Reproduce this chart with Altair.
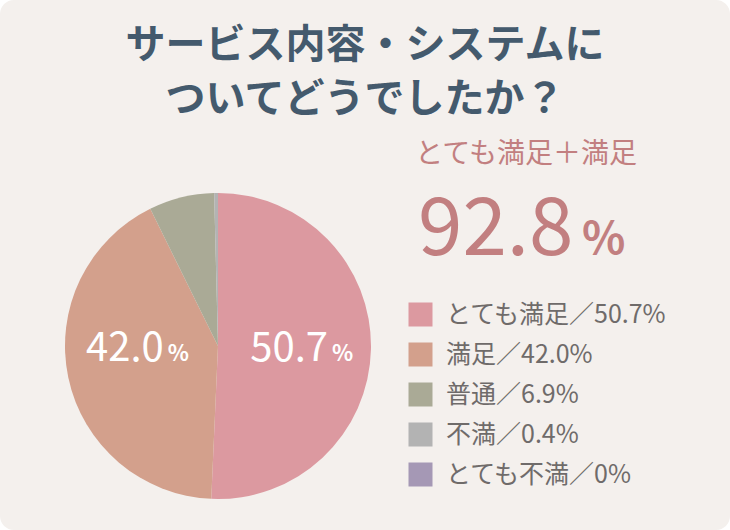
import altair as alt
import pandas as pd

# ---- data ----
categories = ["とても満足", "満足", "普通", "不満", "とても不満"]
values = [50.7, 42.0, 6.9, 0.4, 0.0]
pct_labels = ["50.7%", "42.0%", "6.9%", "0.4%", "0%"]
colors = ["#dc99a0", "#d3a08c", "#aaaa96", "#b3b3b3", "#a598b5"]

title_lines = ["サービス内容・システムに", "ついてどうでしたか？"]
summary_label = "とても満足＋満足"
summary_value = "92.8"

FONT = "Noto Sans CJK JP"

legend_labels = [c + "／" + p for c, p in zip(categories, pct_labels)]
df = pd.DataFrame({
    "cat": categories,
    "value": values,
    "legend": legend_labels,
    "order": list(range(len(categories))),
    "num": [f"{v:.1f}" if v >= 10 else "" for v in values],
    "sign": ["%" if v >= 10 else "" for v in values],
})

CX, CY, R, LR = 218, 346, 153, 83

arc = alt.Chart(df).mark_arc(radius=R).encode(
    theta=alt.Theta("value:Q", stack=True),
    order=alt.Order("order:Q"),
    x=alt.value(CX),
    y=alt.value(CY),
    color=alt.Color(
        "legend:N",
        sort=legend_labels,
        scale=alt.Scale(domain=legend_labels, range=colors),
        legend=alt.Legend(
            orient="none", legendX=408, legendY=302, title=None,
            symbolType="square", symbolSize=576, symbolStrokeWidth=0,
            symbolOpacity=1,
            labelFontSize=25, labelFont=FONT, labelColor="#6f6b6a",
            labelOffset=13, rowPadding=14, padding=0, labelLimit=400,
        ),
    ),
)

label_base = alt.Chart(df).transform_window(
    cum="sum(value)", sort=[alt.SortField("order")], frame=[None, 0]
).transform_joinaggregate(
    total="sum(value)"
).transform_calculate(
    mid="(datum.cum - datum.value / 2) / datum.total * 2 * PI",
    lx=f"{CX} + {LR} * sin(datum.mid)",
    ly=f"{CY}",
).encode(
    x=alt.X("lx:Q", scale=None, axis=None),
    y=alt.Y("ly:Q", scale=None, axis=None),
)

num_text = label_base.mark_text(
    font=FONT, fontSize=40, color="white", align="right",
    baseline="alphabetic", dx=27, dy=15,
).encode(text="num:N")

sign_text = label_base.mark_text(
    font=FONT, fontSize=22, fontWeight="bold", color="white",
    align="left", baseline="alphabetic", dx=31, dy=15,
).encode(text="sign:N")

title1 = alt.Chart(pd.DataFrame({"t": [title_lines[0]]})).mark_text(
    font=FONT, fontSize=40, fontWeight="bold", color="#445a6d",
    align="center", baseline="middle",
).encode(text="t:N", x=alt.value(365), y=alt.value(46))

title2 = alt.Chart(pd.DataFrame({"t": [title_lines[1]]})).mark_text(
    font=FONT, fontSize=40, fontWeight="bold", color="#445a6d",
    align="center", baseline="middle",
).encode(text="t:N", x=alt.value(365), y=alt.value(100))

sub = alt.Chart(pd.DataFrame({"t": [summary_label]})).mark_text(
    font=FONT, fontSize=28, color="#c27f80", align="center", baseline="middle",
).encode(text="t:N", x=alt.value(526), y=alt.value(155))

big = alt.Chart(pd.DataFrame({"t": [summary_value]})).mark_text(
    font=FONT, fontSize=80, color="#c27f80", align="left", baseline="alphabetic",
).encode(text="t:N", x=alt.value(418), y=alt.value(255))

big_pct = alt.Chart(pd.DataFrame({"t": ["%"]})).mark_text(
    font=FONT, fontSize=45, fontWeight="bold", color="#c27f80",
    align="left", baseline="alphabetic",
).encode(text="t:N", x=alt.value(582), y=alt.value(254))

chart = alt.layer(arc, num_text, sign_text, title1, title2, sub, big, big_pct).properties(
    width=730, height=530, padding=0,
    autosize=alt.AutoSizeParams(type="none"),
    background="white",
).configure_view(
    fill="#f4f0ed", strokeWidth=0, cornerRadius=14,
)

chart.save("out.html", embed_options={"renderer": "svg", "actions": False})
